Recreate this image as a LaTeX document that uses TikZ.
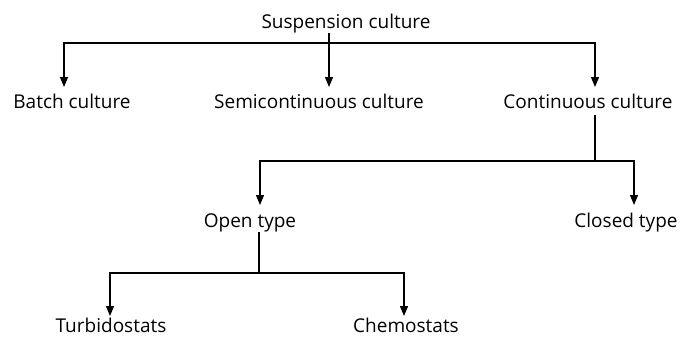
\documentclass[tikz,border=0pt]{standalone}
\usepackage{fontspec}
\setmainfont{Open Sans}
\usetikzlibrary{arrows.meta,calc}
\begin{document}
\begin{tikzpicture}[x=1bp,y=-1bp,
  lbl/.style={inner sep=0pt, anchor=base, font=\fontsize{19bp}{22bp}\selectfont},
  conn/.style={line width=1.2bp},
  arr/.style={conn, -{Triangle[length=10bp,width=8bp]}}]
\useasboundingbox (0,0) rectangle (681,337);
\node[lbl] (susp)   at (346,28)  {Suspension culture};
\node[lbl] (batch)  at (72,108)  {Batch culture};
\node[lbl] (semi)   at (319,108) {Semicontinuous culture};
\node[lbl] (cont)   at (588,108) {Continuous culture};
\node[lbl] (open)   at (250,227) {Open type};
\node[lbl] (closed) at (626,227) {Closed type};
\node[lbl] (turb)   at (111,332.5) {\smash{Turbidostats}};
\node[lbl] (chemo)  at (406,332.5) {\smash{Chemostats}};
\coordinate (j1) at (329,43);
\coordinate (j2) at (595,161);
\coordinate (j3) at (259,273);
% level 1
\draw[conn] ($(susp.base)+(-17,5)$) -- (j1);
\draw[arr] (j1) -- ($(semi.base)+(10,-21)$);
\draw[arr] (j1) -| ($(batch.base)+(-8,-21)$);
\draw[arr] (j1) -| ($(cont.base)+(7,-21)$);
% level 2
\draw[conn] ($(cont.base)+(7,7)$) -- (j2);
\draw[arr] (j2) -| ($(open.base)+(10,-22)$);
\draw[arr] (j2) -| ($(closed.base)+(8,-22)$);
% level 3
\draw[conn] ($(open.base)+(9,5)$) -- (j3);
\draw[arr] (j3) -| ($(turb.base)+(-1,-16.5)$);
\draw[arr] (j3) -| ($(chemo.base)+(-2,-16.5)$);
\end{tikzpicture}
\end{document}
